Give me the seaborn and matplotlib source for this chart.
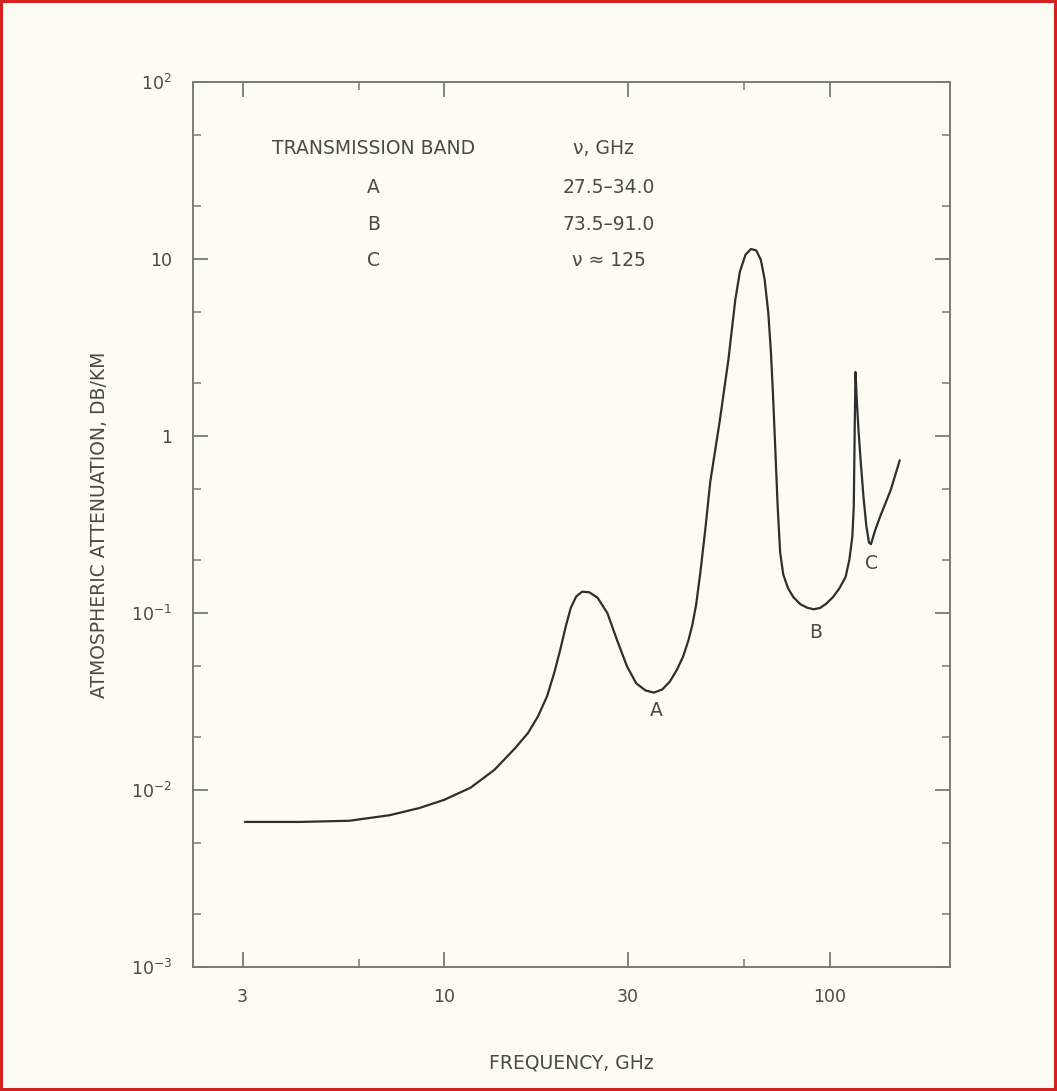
import numpy as np
import pandas as pd
import matplotlib
matplotlib.use('Agg')
import matplotlib.pyplot as plt
import seaborn as sns
from matplotlib.ticker import FixedLocator, NullFormatter

# curve (frequency in GHz, attenuation in dB/km)
freq = [3.04, 4.21, 5.67, 7.21, 8.61, 10.0, 11.7, 13.5, 15.3, 16.5, 17.5, 18.5,
        19.3, 20.0, 20.7, 21.3, 22.0, 22.8, 23.8, 25.0, 26.5, 28.1, 29.8, 31.5,
        33.3, 35.0, 36.8, 38.5, 40.2, 41.7, 43.0, 44.0, 45.0, 46.2, 47.6, 49.0,
        51.9, 54.6, 56.9, 58.5, 60.5, 62.5, 64.5, 66.3, 67.8, 69.3, 70.4, 71.3,
        72.3, 73.3, 74.4, 75.8, 78.0, 80.5, 84.0, 87.6, 91.0, 94.6, 98.0, 102.0,
        106.0, 110.0, 112.5, 114.5, 115.5, 116.2, 116.7, 117.6, 118.8, 120.5,
        122.4, 124.5, 126.5, 128.0, 131.0, 135.0, 144.0, 152.0]
atten = [0.0066, 0.0066, 0.0067, 0.0072, 0.0079, 0.0088, 0.0103, 0.0130, 0.0173,
         0.021, 0.026, 0.034, 0.046, 0.062, 0.085, 0.107, 0.124, 0.132, 0.131,
         0.122, 0.100, 0.070, 0.050, 0.040, 0.0365, 0.0355, 0.037, 0.041, 0.048,
         0.057, 0.070, 0.085, 0.11, 0.17, 0.30, 0.55, 1.23, 2.69, 5.87, 8.5, 10.6,
         11.4, 11.2, 9.9, 7.7, 5.0, 3.0, 1.7, 0.83, 0.40, 0.22, 0.165, 0.138,
         0.123, 0.112, 0.107, 0.105, 0.107, 0.113, 0.123, 0.138, 0.160, 0.20,
         0.27, 0.40, 1.2, 2.30, 1.6, 1.08, 0.70, 0.452, 0.31, 0.25, 0.245, 0.29,
         0.348, 0.495, 0.73]

# window table in the upper left
bands = ['A', 'B', 'C']
band_freqs = ['27.5\u201334.0', '73.5\u201391.0', '\u03bd \u2248 125']

# labels placed at the window minima
min_labels = ['A', 'B', 'C']
min_freq = [35.5, 92.0, 128.5]
min_att = [0.028, 0.078, 0.19]

xticks = [3, 10, 30, 100]
xlabels = ['3', '10', '30', '100']
yticks = [1e-3, 1e-2, 1e-1, 1, 10, 100]
ylabels = ['10$^{-3}$', '10$^{-2}$', '10$^{-1}$', '1', '10', '10$^{2}$']

df = pd.DataFrame({'freq': freq, 'atten': atten})

sns.set_theme(style='ticks')
plt.rcParams['font.family'] = ['DejaVu Sans']
plt.rcParams['mathtext.fontset'] = 'dejavusans'

ink = '#4a4a46'
bg = '#fdfcf3'

fig = plt.figure(figsize=(10.57, 10.91), dpi=100, facecolor=bg)
fig.patch.set_edgecolor('#d42020')
fig.patch.set_linewidth(3)
ax = fig.add_axes([0.1826, 0.1137, 0.716, 0.811])
ax.set_facecolor(bg)

sns.lineplot(data=df, x='freq', y='atten', ax=ax, estimator=None, sort=False,
             color='#2e2e2c', linewidth=1.6)

ax.set_xscale('log')
ax.set_yscale('log')
ax.set_xlim(2.23, 205)
ax.set_ylim(1e-3, 100)

ax.xaxis.set_major_locator(FixedLocator(xticks))
ax.xaxis.set_minor_locator(FixedLocator([6, 60]))
ax.set_xticklabels(xlabels)
ax.xaxis.set_minor_formatter(NullFormatter())
ax.yaxis.set_major_locator(FixedLocator(yticks))
ax.set_yticklabels(ylabels)
minor_y = [m * 10.0 ** e for e in range(-3, 2) for m in (2, 5)]
ax.yaxis.set_minor_locator(FixedLocator(minor_y))
ax.yaxis.set_minor_formatter(NullFormatter())

ax.tick_params(which='both', direction='in', top=True, right=True, color='#7a7a76',
               labelcolor=ink, labelsize=12.5)
ax.tick_params(which='major', length=11, width=1.3, pad=15)
ax.tick_params(which='minor', length=6, width=1.1)
for s in ax.spines.values():
    s.set_color('#7a7a76')
    s.set_linewidth(1.4)

ax.set_xlabel('FREQUENCY, GHz', fontsize=13.5, color=ink, labelpad=34)
ax.set_ylabel('ATMOSPHERIC ATTENUATION, DB/KM', fontsize=13.5, color=ink, labelpad=16)

# table text (axes fraction coordinates)
tkw = dict(transform=ax.transAxes, fontsize=13.5, color=ink, ha='center', va='center')
ax.text(0.238, 0.925, 'TRANSMISSION BAND', **tkw)
ax.text(0.542, 0.925, '\u03bd, GHz', **tkw)
for i, (b, f) in enumerate(zip(bands, band_freqs)):
    yy = 0.881 - i * 0.0415
    ax.text(0.238, yy, b, **tkw)
    ax.text(0.549, yy, f, **tkw)

for lab, fx, fy in zip(min_labels, min_freq, min_att):
    ax.text(fx, fy, lab, fontsize=13.5, color=ink, ha='center', va='center')

fig.savefig('out.png', dpi=100, facecolor=bg, edgecolor=fig.get_edgecolor())
